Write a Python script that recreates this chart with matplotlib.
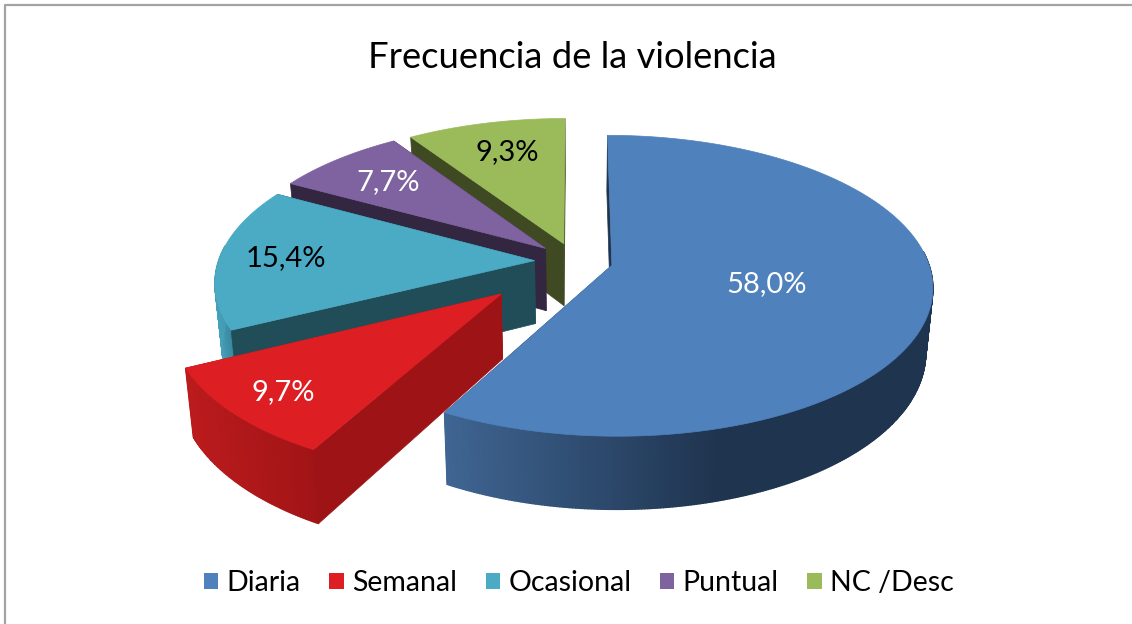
import matplotlib
matplotlib.use('Agg')
import matplotlib.pyplot as plt
import numpy as np
from matplotlib.patches import Patch

plt.rcParams['font.family'] = ['Lato', 'DejaVu Sans']

title = 'Frecuencia de la violencia'
categories = ['Diaria', 'Semanal', 'Ocasional', 'Puntual', 'NC /Desc']
values = [58.0, 9.7, 15.4, 7.7, 9.3]

# colours per slice: top, cut face, rim left, rim right
top_colors = ['#4f81bd', '#dd1f24', '#4babc5', '#7f62a0', '#9bbb5b']
cut_colors = ['#1f344f', '#9e1416', '#214d59', '#332640', '#3f4a22']
rim_left = ['#3f6592', '#bb1b1d', '#45a0b8', '#5d4876', '#6f8841']
rim_right = ['#1f344f', '#a01416', '#358297', '#4a3a60', '#5a6e35']
rim_span = [(447, 720), (186, 320), (215, 235), (290, 410), (410, 565)]
text_colors = ['white', 'white', 'black', 'white', 'black']

explode = [0.12, 0.315, 0.128, 0.128, 0.125]
label_pos = [(767, 284), (283, 392), (286, 258), (388, 182), (507, 152)]
draw_order = [4, 3, 2, 1, 0]

# view of the pie, in pixels
cx, cy = 575, 261
A, B, H = 316, 146.5, 63
D = 7.4
shrink = 0.02


def project(X, Y, low=False):
    s = D / (D + Y)
    sx = cx + X * s * A
    sy = cy - Y * s * B
    if low:
        sx = cx + (sx - cx) * (1 - shrink)
        sy = sy + H * s
    return sx, sy


def hex_mix(c1, c2, t):
    a = np.array(matplotlib.colors.to_rgb(c1))
    b = np.array(matplotlib.colors.to_rgb(c2))
    return tuple(a + (b - a) * t)


def cut_face(ox, oy, a, col):
    xe = np.array([ox, ox + np.sin(a)])
    ye = np.array([oy, oy + np.cos(a)])
    tx, ty = project(xe, ye)
    lx, ly = project(xe, ye, low=True)
    ax.fill(np.r_[tx, lx[::-1]], np.r_[ty, ly[::-1]], color=col, lw=0.5)


fig = plt.figure(figsize=(11.32, 6.24), dpi=100)
ax = fig.add_axes([0, 0, 1, 1])
ax.set_xlim(0, 1132)
ax.set_ylim(624, 0)
ax.axis('off')

# frame only shows on top and left
ax.plot([4.5, 4.5, 1132], [624, 4.5, 4.5], color='#a3a3a3', lw=1.6)

fractions = np.array(values) / np.sum(values)
edges = np.concatenate([[0], np.cumsum(fractions)]) * 2 * np.pi

for i in draw_order:
    a0, a1 = edges[i], edges[i + 1]
    mid = (a0 + a1) / 2
    ox = explode[i] * np.sin(mid)
    oy = explode[i] * np.cos(mid)
    ang = np.linspace(a0, a1, int(np.degrees(a1 - a0)) * 2 + 2)
    X = ox + np.sin(ang)
    Y = oy + np.cos(ang)

    # faces turned away go first, only a sliver of them shows
    front_a0 = np.sin(a0) < -1e-6
    front_a1 = np.sin(a1) > 1e-6
    if not front_a0:
        cut_face(ox, oy, a0, cut_colors[i])
    if not front_a1:
        cut_face(ox, oy, a1, cut_colors[i])

    # rim, front part only
    tx, ty = project(X, Y)
    lx, ly = project(X, Y, low=True)
    for k in range(len(ang) - 1):
        if np.cos(ang[k]) > 0.1:
            continue
        t = np.clip((tx[k] - rim_span[i][0]) / (rim_span[i][1] - rim_span[i][0]), 0, 1)
        col = hex_mix(rim_left[i], rim_right[i], t)
        ax.fill([tx[k], tx[k + 1], lx[k + 1], lx[k]], [ty[k], ty[k + 1], ly[k + 1], ly[k]],
                color=col, lw=1.0)

    if front_a0:
        cut_face(ox, oy, a0, cut_colors[i])
    if front_a1:
        cut_face(ox, oy, a1, cut_colors[i])

    # top
    px, py = project(ox, oy)
    ax.fill(np.r_[px, tx], np.r_[py, ty], color=top_colors[i], lw=0.5)

for i, v in enumerate(values):
    ax.text(label_pos[i][0], label_pos[i][1], f'{v:.1f}%'.replace('.', ','),
            color=text_colors[i], fontsize=21, ha='center', va='center')

ax.text(572, 57, title, fontsize=26.2, ha='center', va='center', color='black')

handles = [Patch(facecolor=c, edgecolor='none') for c in top_colors]
ax.legend(handles, categories, ncol=5, loc='center', bbox_to_anchor=(579 / 1132, 1 - 583 / 624),
          frameon=False, fontsize=20.5, handlelength=0.5, handleheight=0.5, handletextpad=0.3,
          columnspacing=1.0, borderpad=0)

fig.savefig('out.png', dpi=100)
